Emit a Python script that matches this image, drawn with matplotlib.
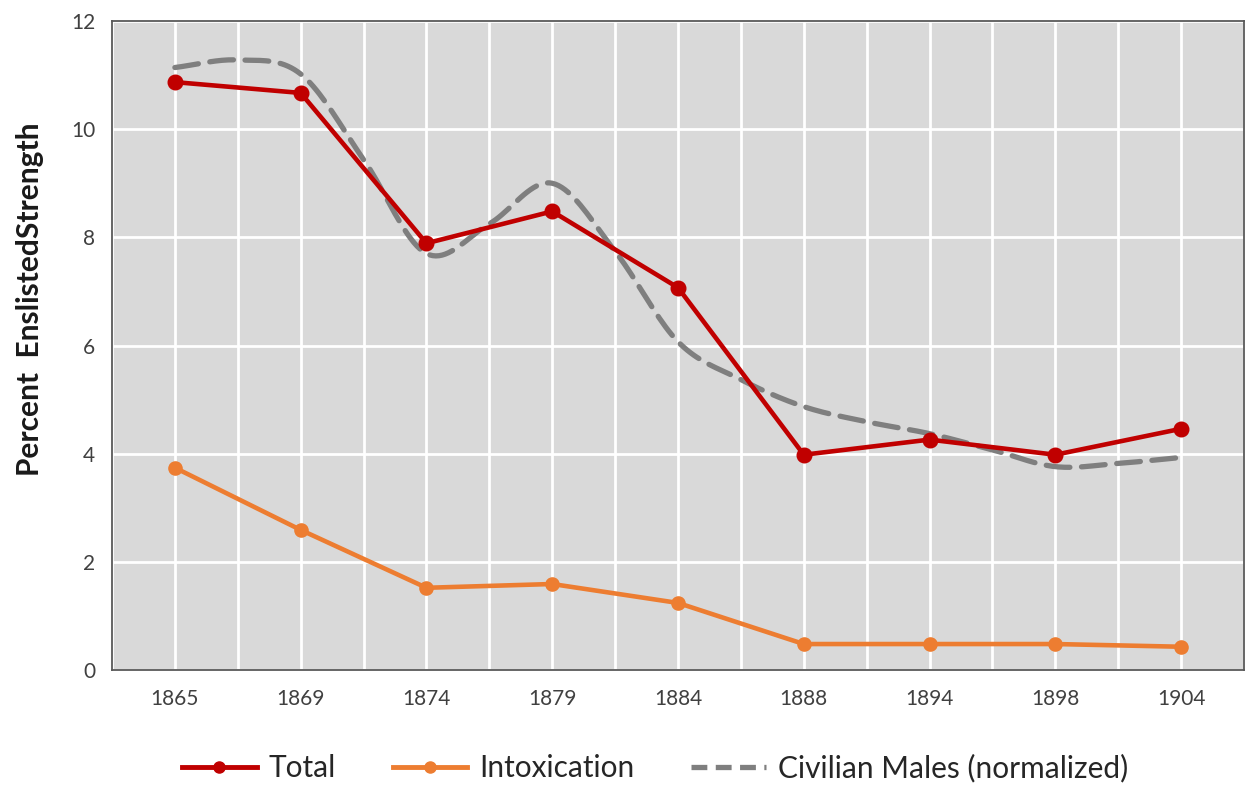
import numpy as np
import matplotlib
matplotlib.use("Agg")
import matplotlib.pyplot as plt
from matplotlib.lines import Line2D

# ---- data ----
years = ["1865", "1869", "1874", "1879", "1884", "1888", "1894", "1898", "1904"]
total = [10.87, 10.67, 7.89, 8.48, 7.07, 3.98, 4.26, 3.98, 4.46]
intoxication = [3.74, 2.59, 1.52, 1.59, 1.24, 0.48, 0.48, 0.48, 0.43]
# civilian curve read at every half category step
civ_pos = [0, 0.5, 1, 1.5, 2, 2.5, 3, 3.5, 4, 4.5, 5, 5.5, 6, 6.5, 7, 7.5, 8]
civilian = [11.14, 11.28, 11.02, 9.44, 7.70, 8.25, 9.00, 7.74, 6.07, 5.37,
            4.87, 4.59, 4.37, 4.07, 3.76, 3.82, 3.93]
yticks = [0, 2, 4, 6, 8, 10, 12]

plt.rcParams['font.family'] = ['Lato', 'DejaVu Sans']

RED = "#C00000"
ORANGE = "#ED7D31"
GRAY = "#7F7F7F"


def catmull_rom(xs, ys, n=20):
    xs = np.asarray(xs, float)
    ys = np.asarray(ys, float)
    px = np.concatenate([[2 * xs[0] - xs[1]], xs, [2 * xs[-1] - xs[-2]]])
    py = np.concatenate([[2 * ys[0] - ys[1]], ys, [2 * ys[-1] - ys[-2]]])
    outx, outy = [], []
    t = np.linspace(0, 1, n, endpoint=False)
    for i in range(1, len(px) - 2):
        for out, (a, b, c, d) in ((outx, px[i - 1:i + 3]), (outy, py[i - 1:i + 3])):
            out.extend(0.5 * ((2 * b) + (-a + c) * t + (2 * a - 5 * b + 4 * c - d) * t ** 2
                              + (-a + 3 * b - 3 * c + d) * t ** 3))
    outx.append(xs[-1])
    outy.append(ys[-1])
    return np.array(outx), np.array(outy)


fig = plt.figure(figsize=(12.46, 7.88), dpi=100)
ax = fig.add_axes([112 / 1246, 1 - 670 / 788, (1244 - 112) / 1246, (670 - 21) / 788])
ax.set_facecolor("#D9D9D9")

x = np.arange(len(years))
ax.set_xlim(-0.5, len(years) - 0.5)
ax.set_ylim(0, 12)

# grid lines: white, at each category and half category
for gx in np.arange(-0.5, len(years) - 0.5 + 0.01, 0.5):
    ax.axvline(gx, color="white", lw=2.0, zorder=1)
for gy in yticks:
    ax.axhline(gy, color="white", lw=2.0, zorder=1)

cx, cy = catmull_rom(civ_pos, civilian)
ax.plot(cx, cy, color=GRAY, lw=3.8, dashes=(4.5, 2.2), zorder=3,
        dash_capstyle="round")
ax.plot(x, total, color=RED, lw=3.3, marker="o", markersize=10.5, zorder=4)
ax.plot(x, intoxication, color=ORANGE, lw=3.3, marker="o", markersize=9.5, zorder=4)

ax.set_xticks(x)
ax.set_xticklabels(years)
ax.set_yticks(yticks)
ax.tick_params(axis="both", length=0, labelsize=15, colors="#404040")
ax.tick_params(axis="x", pad=14)
ax.tick_params(axis="y", pad=12)

for s in ax.spines.values():
    s.set_color("#595959")
    s.set_linewidth(1.3)

fig.text(30 / 1246, 1 - 299 / 788, "Percent  EnslistedStrength", rotation=90,
         ha="center", va="center", fontsize=21.5, fontweight="bold", color="#1a1a1a")

handles = [
    Line2D([], [], color=RED, lw=3.5, marker="o", markersize=8),
    Line2D([], [], color=ORANGE, lw=3.5, marker="o", markersize=8),
    Line2D([], [], color=GRAY, lw=3.8, dashes=(3.0, 1.6)),
]
fig.legend(handles, ["Total", "Intoxication", "Civilian Males (normalized)"],
           loc="center", bbox_to_anchor=(655 / 1246, 1 - 768 / 788), ncol=3,
           frameon=False, fontsize=21.5, handlelength=2.5, handletextpad=0.4,
           columnspacing=1.9, labelcolor="#262626")

fig.savefig("out.png", dpi=100)
